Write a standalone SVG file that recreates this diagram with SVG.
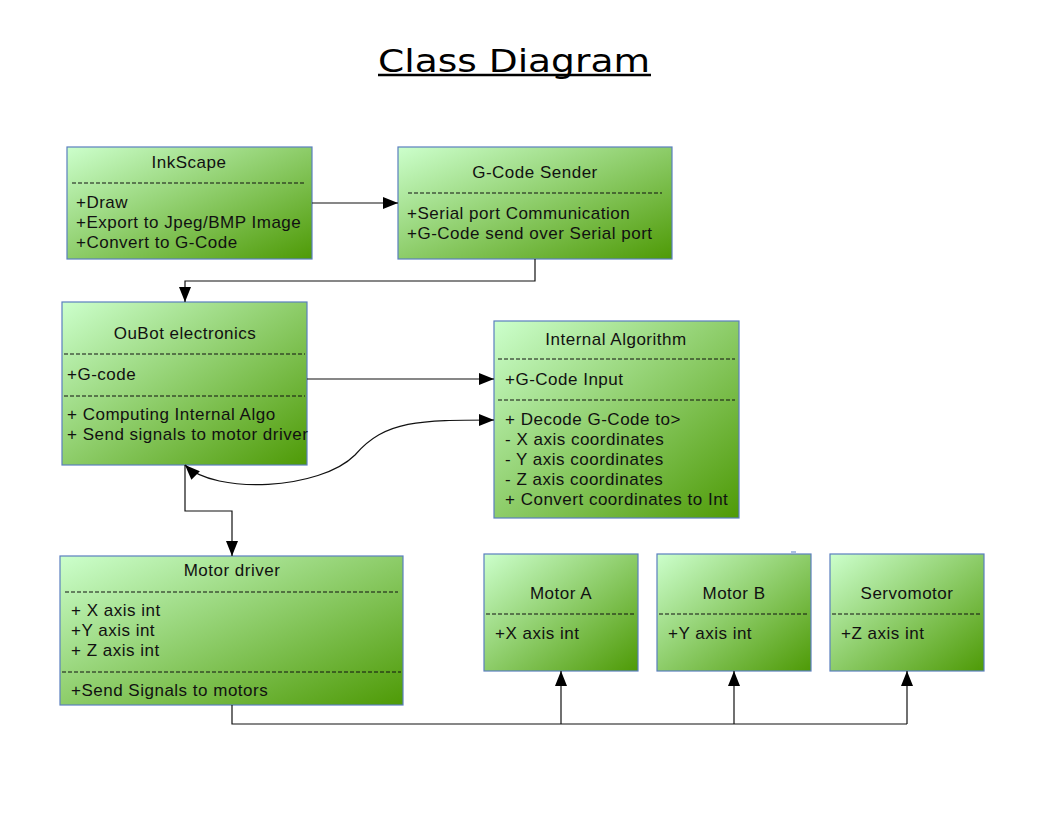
<svg xmlns="http://www.w3.org/2000/svg" width="1056" height="816" viewBox="0 0 1056 816">
<defs>
<linearGradient id="g" x1="0" y1="0" x2="1" y2="1">
<stop offset="0" stop-color="#ccffcc"/>
<stop offset="1" stop-color="#4e9a06"/>
</linearGradient>
<marker id="ah" markerUnits="userSpaceOnUse" markerWidth="16" markerHeight="12" refX="15" refY="6" orient="auto-start-reverse">
<path d="M0,0 L15,6 L0,12 Z" fill="#000"/>
</marker>
</defs>
<style>
.box{fill:url(#g);stroke:#5a7fbf;stroke-width:1.2}
.t{font-family:"Liberation Sans",Arial,sans-serif;font-size:17px;letter-spacing:0.5px;fill:#111}
.c{text-anchor:middle}
.d{stroke:#111;stroke-width:1;stroke-dasharray:4,2}
.con{fill:none;stroke:#111;stroke-width:1.2}
</style>
<rect width="1056" height="816" fill="#fff"/>
<g id="title">
<text x="514" y="72" text-anchor="middle" font-family="'DejaVu Sans',sans-serif" font-size="32" textLength="272" lengthAdjust="spacingAndGlyphs" fill="#000">Class Diagram</text>
<line x1="378" y1="75" x2="651" y2="75" stroke="#000" stroke-width="2.5"/>
</g>
<g id="inkscape">
<rect class="box" x="67" y="147" width="245" height="112"/>
<text class="t c" x="189" y="168">InkScape</text>
<line class="d" x1="72" y1="183" x2="306" y2="183"/>
<text class="t" x="76" y="208">+Draw</text>
<text class="t" x="76" y="228">+Export to Jpeg/BMP Image</text>
<text class="t" x="76" y="248">+Convert to G-Code</text>
</g>
<g id="gcode-sender">
<rect class="box" x="398" y="147" width="274" height="112"/>
<text class="t c" x="535" y="178">G-Code Sender</text>
<line class="d" x1="408" y1="193" x2="662" y2="193"/>
<text class="t" x="407" y="219">+Serial port Communication</text>
<text class="t" x="407" y="239">+G-Code send over Serial port</text>
</g>
<g id="oubot">
<rect class="box" x="62" y="302" width="245" height="163"/>
<text class="t c" x="185" y="339">OuBot electronics</text>
<line class="d" x1="64" y1="354" x2="305" y2="354"/>
<text class="t" x="67" y="380">+G-code</text>
<line class="d" x1="64" y1="396" x2="305" y2="396"/>
<text class="t" x="67" y="420">+ Computing Internal Algo</text>
<text class="t" x="67" y="440">+ Send signals to motor driver</text>
</g>
<g id="internal-algorithm">
<rect class="box" x="494" y="321" width="245" height="197"/>
<text class="t c" x="616" y="345">Internal Algorithm</text>
<line class="d" x1="498" y1="359" x2="735" y2="359"/>
<text class="t" x="505" y="385">+G-Code Input</text>
<line class="d" x1="498" y1="400" x2="735" y2="400"/>
<text class="t" x="505" y="425">+ Decode G-Code to&gt;</text>
<text class="t" x="505" y="445">- X axis coordinates</text>
<text class="t" x="505" y="465">- Y axis coordinates</text>
<text class="t" x="505" y="485">- Z axis coordinates</text>
<text class="t" x="505" y="505">+ Convert coordinates to Int</text>
</g>
<g id="motor-driver">
<rect class="box" x="60" y="556" width="343" height="149"/>
<text class="t c" x="232" y="576">Motor driver</text>
<line class="d" x1="65" y1="592" x2="398" y2="592"/>
<text class="t" x="71" y="616">+ X axis int</text>
<text class="t" x="71" y="636">+Y axis int</text>
<text class="t" x="71" y="656">+ Z axis int</text>
<line class="d" x1="62" y1="672" x2="401" y2="672"/>
<text class="t" x="71" y="696">+Send Signals to motors</text>
</g>
<g id="motor-a">
<rect class="box" x="484" y="554" width="154" height="117"/>
<text class="t c" x="561" y="599">Motor A</text>
<line class="d" x1="486" y1="614" x2="636" y2="614"/>
<text class="t" x="495" y="639">+X axis int</text>
</g>
<g id="motor-b">
<rect class="box" x="657" y="554" width="154" height="117"/>
<text class="t c" x="734" y="599">Motor B</text>
<line class="d" x1="659" y1="614" x2="809" y2="614"/>
<text class="t" x="668" y="639">+Y axis int</text>
</g>
<g id="servomotor">
<rect class="box" x="830" y="554" width="154" height="117"/>
<text class="t c" x="907" y="599">Servomotor</text>
<line class="d" x1="832" y1="614" x2="982" y2="614"/>
<text class="t" x="841" y="639">+Z axis int</text>
</g>
<line x1="791" y1="552" x2="796" y2="552" stroke="#8fa8d8" stroke-width="1.5"/>
<g id="connectors">
<path class="con" d="M312,203 H398" marker-end="url(#ah)"/>
<path class="con" d="M535,259 V281 H185 V302" marker-end="url(#ah)"/>
<path class="con" d="M307,379 H494" marker-end="url(#ah)"/>
<path class="con" d="M185,465 C215,495 320,490 355,455 C385,420 420,420 494,420" marker-start="url(#ah)" marker-end="url(#ah)"/>
<path class="con" d="M185,465 V511 H232 V556" marker-end="url(#ah)"/>
<path class="con" d="M232,705 V724 H907"/>
<path class="con" d="M561,724 V671" marker-end="url(#ah)"/>
<path class="con" d="M734,724 V671" marker-end="url(#ah)"/>
<path class="con" d="M907,724 V671" marker-end="url(#ah)"/>
</g>
</svg>
